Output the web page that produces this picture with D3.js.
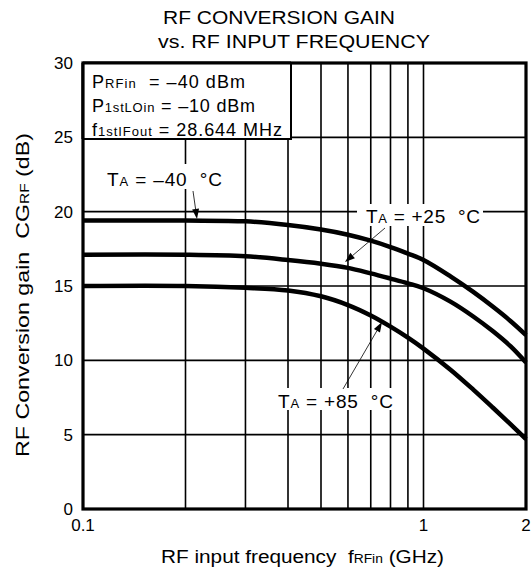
<!DOCTYPE html>
<html><head><meta charset="utf-8">
<script src="https://cdn.jsdelivr.net/npm/d3@7"></script>
<style>
html,body{margin:0;padding:0;background:#fff;}
svg{display:block;font-family:"Liberation Sans",Arial,Helvetica,sans-serif;}
text{white-space:pre;}
</style></head>
<body><svg id="c" width="531" height="574"></svg>
<script>
// ---- data ----
const freqs   = [0.1, 0.2, 0.3, 0.4, 0.5, 0.6, 0.7, 0.8, 0.9, 1.0, 1.2, 1.4, 1.6, 1.8, 2.0];
const gainM40 = [19.4, 19.4, 19.35, 19.1, 18.8, 18.45, 18.05, 17.62, 17.18, 16.75, 15.65, 14.6, 13.6, 12.65, 11.7];
const gainP25 = [17.1, 17.1, 17.0, 16.75, 16.5, 16.22, 15.85, 15.5, 15.18, 14.85, 13.95, 12.95, 11.95, 10.95, 9.85];
const gainP85 = [15.0, 15.0, 14.88, 14.7, 14.31, 13.72, 13.02, 12.27, 11.53, 10.79, 9.37, 8.03, 6.81, 5.71, 4.7];
const yTicks  = [0, 5, 10, 15, 20, 25, 30];
const xGrid   = [0.2, 0.3, 0.4, 0.5, 0.6, 0.7, 0.8, 0.9, 1.0];
const xTickVals   = [0.1, 1, 2];
const xTickLabels = ["0.1", "1", "2"];

const svg = d3.select("#c");
const L = 83, R = 526, T = 63, B = 509;
const x = d3.scaleLog().domain([0.1, 2]).range([L, R]);
const y = d3.scaleLinear().domain([0, 30]).range([B, T]);

// title
svg.append("text").attr("x", 163).attr("y", 24).attr("font-size", 18)
  .attr("textLength", 232).attr("lengthAdjust", "spacingAndGlyphs").text("RF CONVERSION GAIN");
svg.append("text").attr("x", 158).attr("y", 48).attr("font-size", 18)
  .attr("textLength", 272).attr("lengthAdjust", "spacingAndGlyphs").text("vs. RF INPUT FREQUENCY");

// grid
const g = svg.append("g");
g.selectAll(".hg").data(yTicks.filter(d => d > 0 && d < 30)).enter().append("line")
  .attr("x1", L).attr("x2", R).attr("y1", d => y(d)).attr("y2", d => y(d))
  .attr("stroke", "#000").attr("stroke-width", 1.6);
g.selectAll(".vg").data(xGrid).enter().append("line")
  .attr("x1", d => x(d)).attr("x2", d => x(d)).attr("y1", T).attr("y2", B)
  .attr("stroke", "#000").attr("stroke-width", 1.6);

// white backgrounds for labels
const bgs = [[104, 164, 122, 25], [357, 204, 126, 22], [275, 388, 121, 22]];
svg.selectAll(".bg").data(bgs).enter().append("rect")
  .attr("x", d => d[0]).attr("y", d => d[1]).attr("width", d => d[2]).attr("height", d => d[3])
  .attr("fill", "#fff");

// frame
svg.append("rect").attr("x", L).attr("y", T).attr("width", R - L).attr("height", B - T)
  .attr("fill", "none").attr("stroke", "#000").attr("stroke-width", 3.2);

// legend box
svg.append("rect").attr("x", L).attr("y", T).attr("width", 291 - L).attr("height", 139 - T)
  .attr("fill", "#fff").attr("stroke", "#000").attr("stroke-width", 2);
svg.append("line").attr("x1", L).attr("x2", L).attr("y1", T).attr("y2", 139)
  .attr("stroke", "#000").attr("stroke-width", 3.2);
svg.append("line").attr("x1", L).attr("x2", 291).attr("y1", T).attr("y2", T)
  .attr("stroke", "#000").attr("stroke-width", 3.2);

function rich(parent, xx, yy, parts, big, small, len, adj) {
  const t = parent.append("text").attr("x", xx).attr("y", yy).attr("font-size", big);
  parts.forEach(p => {
    const s = t.append("tspan").text(p[0]);
    if (p[1]) s.attr("font-size", small);
  });
  if (len) t.attr("textLength", len).attr("lengthAdjust", adj || "spacing");
  return t;
}
rich(svg, 92, 88, [["P"], ["RFin", 1], ["  = \u201340 dBm"]], 18, 13, 153);
rich(svg, 92, 112, [["P"], ["1stLOin", 1], [" = \u201310 dBm"]], 18, 13, 163);
rich(svg, 92, 136, [["f"], ["1stIFout", 1], [" = 28.644 MHz"]], 18, 13, 190);

// curves
const line = d3.line().x(d => x(d[0])).y(d => y(d[1])).curve(d3.curveCatmullRom.alpha(0.5));
[gainM40, gainP25, gainP85].forEach(s => {
  svg.append("path").attr("d", line(freqs.map((f, i) => [f, s[i]])))
    .attr("fill", "none").attr("stroke", "#000").attr("stroke-width", 4.5);
});

// annotations
function arrow(x1, y1, x2, y2) {
  const a = Math.atan2(y2 - y1, x2 - x1), len = 10, w = 3.5;
  const bx = x2 - len * Math.cos(a), by = y2 - len * Math.sin(a);
  svg.append("line").attr("x1", x1).attr("y1", y1).attr("x2", bx).attr("y2", by)
    .attr("stroke", "#000").attr("stroke-width", 0.8);
  svg.append("path").attr("d",
    `M${x2},${y2}L${bx + w * Math.sin(a)},${by - w * Math.cos(a)}L${bx - w * Math.sin(a)},${by + w * Math.cos(a)}Z`)
    .attr("fill", "#000");
}
rich(svg, 107, 186, [["T"], ["A", 1], [" = \u201340  \u00B0C"]], 19, 13, 115);
arrow(193, 191, 197, 219);
rich(svg, 366, 223, [["T"], ["A", 1], [" = +25  \u00B0C"]], 19, 13, 114);
arrow(385, 228, 345, 262);
rich(svg, 278, 408, [["T"], ["A", 1], [" = +85  \u00B0C"]], 19, 13, 115);
arrow(343, 389, 382, 322);

// y tick labels
svg.selectAll(".yl").data(yTicks).enter().append("text")
  .attr("x", 73).attr("y", d => y(d)).attr("dy", "0.35em").attr("text-anchor", "end")
  .attr("font-size", 17).text(d => d);
// x tick labels
svg.selectAll(".xl").data(xTickVals).enter().append("text")
  .attr("x", d => x(d)).attr("y", 531).attr("text-anchor", "middle")
  .attr("font-size", 17).text((d, i) => xTickLabels[i]);

// axis titles
rich(svg, 161, 563, [["RF input frequency  f"], ["RFin", 1], [" (GHz)"]], 18, 12, 283, "spacingAndGlyphs");
const yt = rich(svg, 0, 0, [["RF Conversion gain  CG"], ["RF", 1], [" (dB)"]], 18, 12, 324, "spacingAndGlyphs");
yt.attr("transform", "translate(29,457) rotate(-90)");
</script></body></html>
